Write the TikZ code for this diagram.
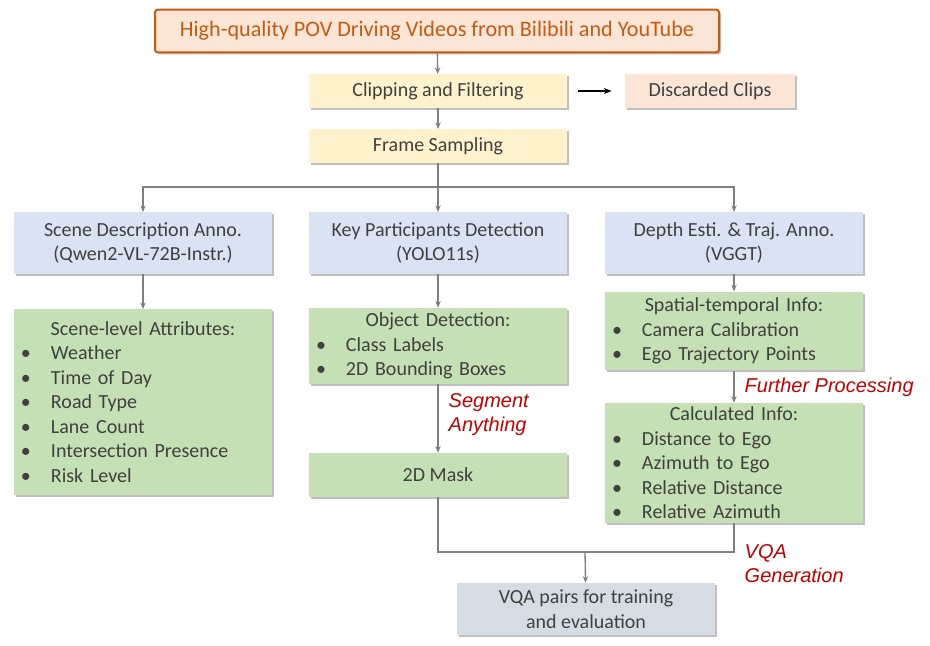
\documentclass[tikz,border=0pt]{standalone}
\usepackage{fontspec}
\setmainfont{Carlito}
\newfontfamily\notefont{Liberation Sans}
\definecolor{pptorange}{RGB}{197,90,17}
\definecolor{pptpeach}{RGB}{251,229,214}
\definecolor{pptyellow}{RGB}{255,242,204}
\definecolor{pptblue}{RGB}{218,227,243}
\definecolor{pptgreen}{RGB}{197,224,180}
\definecolor{pptslate}{RGB}{214,220,229}
\definecolor{ppttext}{RGB}{64,64,64}
\definecolor{pptline}{RGB}{127,127,127}
\definecolor{pptred}{RGB}{192,0,0}
\usetikzlibrary{arrows.meta,positioning,shadows}

\tikzset{
  stage/.style={rectangle, inner sep=0pt, text=ppttext, align=center,
    font=\fontsize{15}{18.4}\selectfont,
    drop shadow={shadow xshift=1.5pt, shadow yshift=-1.5pt, fill=black, opacity=0.25}},
  listbox/.style={stage, align=left, text width=177pt},
  flow/.style={draw=pptline, line width=1pt, -{Stealth[length=5pt,width=4pt]}},
  link/.style={draw=pptline, line width=1pt},
  note/.style={font=\notefont\itshape\fontsize{15}{18}\selectfont, text=pptred, align=left, anchor=west}
}
\newcommand{\bul}{\makebox[19.5pt][l]{\hspace{-3pt}\textbullet}}

\begin{document}
\begin{tikzpicture}[x=0.75pt, y=-0.75pt]
  \useasboundingbox (0,0) rectangle (930,645);

  %% Source and preprocessing
  \node[stage, fill=pptpeach, draw=pptorange, line width=1.5pt, rounded corners=2pt,
        minimum width=423pt, minimum height=32pt, text=pptorange,
        font=\fontsize{16.6}{18}\selectfont] (src) at (437,31) {High-quality POV Driving Videos from Bilibili and YouTube};
  \node[stage, fill=pptyellow, minimum width=193pt, minimum height=25pt] (clip)  at (438,91)  {Clipping and Filtering};
  \node[stage, fill=pptpeach,  minimum width=127pt, minimum height=25pt] (disc)  at (710,91)  {Discarded Clips};
  \node[stage, fill=pptyellow, minimum width=193pt, minimum height=25pt] (frame) at (438,146) {Frame Sampling};

  %% Three annotation branches
  \node[stage, fill=pptblue, minimum width=193.5pt, minimum height=46pt] (scene) at (143,243) {Scene Description Anno.\\(Qwen2-VL-72B-Instr.)};
  \node[stage, fill=pptblue, minimum width=193.5pt, minimum height=46pt] (key)   at (438,243) {Key Participants Detection\\(YOLO11s)};
  \node[stage, fill=pptblue, minimum width=193.5pt, minimum height=46pt] (depth) at (734,243) {Depth Esti. \& Traj. Anno.\\(VGGT)};

  %% Scene branch
  \node[listbox, fill=pptgreen, minimum width=193.5pt, minimum height=139pt] (attr) at (143,402)
    {{\centering Scene-level Attributes:\par}
     \bul Weather\\ \bul Time of Day\\ \bul Road Type\\ \bul Lane Count\\
     \bul Intersection Presence\\ \bul Risk Level};

  %% Participants branch
  \node[listbox, fill=pptgreen, minimum width=193pt, minimum height=57pt] (obj) at (438,346)
    {{\centering Object Detection:\par}
     \bul Class Labels\\ \bul 2D Bounding Boxes};
  \node[stage, fill=pptgreen, minimum width=193pt, minimum height=33pt] (mask) at (438,475) {2D Mask};

  %% Depth branch
  \node[listbox, fill=pptgreen, minimum width=193.5pt, minimum height=59pt] (spat) at (734,331)
    {{\centering Spatial-temporal Info:\par}
     \bul Camera Calibration\\ \bul Ego Trajectory Points};
  \node[listbox, fill=pptgreen, minimum width=193.5pt, minimum height=90pt] (calc) at (734,463)
    {{\centering Calculated Info:\par}
     \bul Distance to Ego\\ \bul Azimuth to Ego\\ \bul Relative Distance\\ \bul Relative Azimuth};

  %% Output
  \node[stage, fill=pptslate, minimum width=193pt, minimum height=39pt] (vqa) at (586,609) {VQA pairs for training\\and evaluation};

  %% Connectors
  \coordinate (split) at (438,187);
  \coordinate (merge) at (585,552);
  \draw[flow] (src) -- (clip);
  \draw[flow] (clip) -- (frame);
  \draw[line width=1pt, -{Stealth[length=6pt,width=4.5pt]}] ([xshift=8pt]clip.east) -- ([xshift=-10pt]disc.west);
  \draw[link] (frame) -- (split);
  \draw[flow] (split) -| (scene);
  \draw[flow] (split) -- (key);
  \draw[flow] (split) -| (depth);
  \draw[flow] (scene) -- (attr);
  \draw[flow] (key) -- (obj);
  \draw[flow] (obj) -- (mask);
  \draw[flow] (depth) -- (spat);
  \draw[flow] (spat) -- (calc);
  \draw[link] (mask) |- (merge);
  \draw[link] (calc) |- (merge);
  \draw[flow] (merge) -- (vqa);

  %% Step labels
  \node[note] (segl) at (444,415) {Segment\\Anything};
  \node[note] (furl) at (740,387) {Further Processing};
  \node[note] (genl) at (740,564) {VQA\\Generation};
\end{tikzpicture}
\end{document}
